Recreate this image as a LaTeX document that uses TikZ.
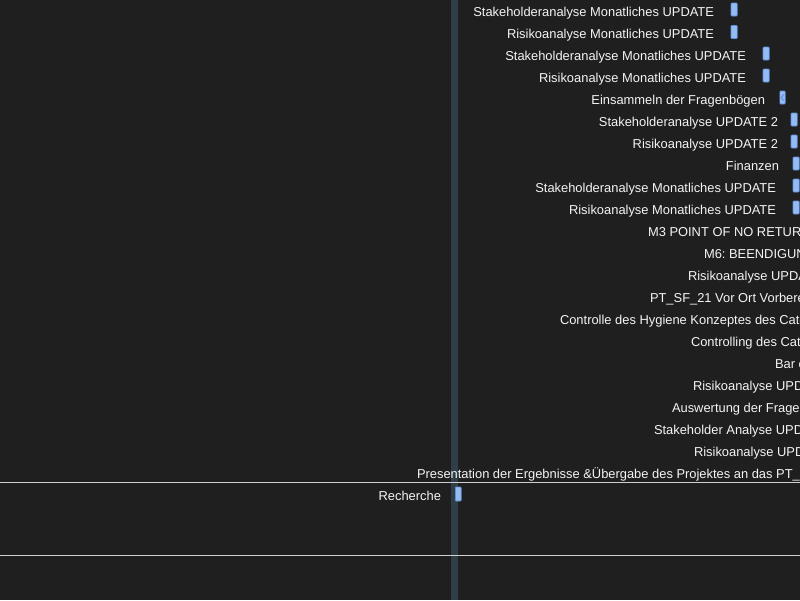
\documentclass[tikz,border=0pt]{standalone}
\usepackage{fontspec}
\setmainfont{Liberation Sans}
\frenchspacing
\begin{document}
\begin{tikzpicture}[x=1pt,y=-1pt,
  lbl/.style={inner sep=0pt,outer sep=0pt,text=labelwhite,font=\fontsize{12.9}{14}\selectfont},
  bar/.style={fill=barblue,draw=baredge,line width=0.6pt,rounded corners=0.8pt},
  divider/.style={draw=linegray,line width=1.1pt}]
\definecolor{bg}{HTML}{1F1F1F}
\definecolor{labelwhite}{HTML}{F4F4F4}
\definecolor{barblue}{HTML}{95BBF3}
\definecolor{baredge}{HTML}{5E8FDA}
\definecolor{linegray}{HTML}{CFCFCF}
\definecolor{todayband}{HTML}{2F3F47}
\useasboundingbox (0,0) rectangle (800,600);
\clip (0,0) rectangle (800,600);
\fill[bg] (0,0) rectangle (800,600);
% today marker band
\fill[todayband] (451,0) rectangle (458,600);

% task rows with visible bars (labels right-aligned before the bar)
\node[lbl,anchor=base east] (t0) at (714,16) {Stakeholderanalyse Monatliches UPDATE};
\node[lbl,anchor=base east] (t1) at (714,38) {Risikoanalyse Monatliches UPDATE};
\node[lbl,anchor=base east] (t2) at (746,60) {Stakeholderanalyse Monatliches UPDATE};
\node[lbl,anchor=base east] (t3) at (746,82) {Risikoanalyse Monatliches UPDATE};
\node[lbl,anchor=base east] (t4) at (765,104) {Einsammeln der Fragenbögen};
\node[lbl,anchor=base east] (t5) at (778,126) {Stakeholderanalyse UPDATE 2};
\node[lbl,anchor=base east] (t6) at (778,148) {Risikoanalyse UPDATE 2};
\node[lbl,anchor=base east] (t7) at (779,170) {Finanzen};
\node[lbl,anchor=base east] (t8) at (776,192) {Stakeholderanalyse Monatliches UPDATE};
\node[lbl,anchor=base east] (t9) at (776,214) {Risikoanalyse Monatliches UPDATE};

\draw[bar] (731,3) rectangle (737.2,16);
\draw[bar] (731,25.5) rectangle (737.2,38.5);
\draw[bar] (763,47) rectangle (769.2,60);
\draw[bar] (763,69) rectangle (769.2,82);
\draw[bar] (779.8,91) rectangle (785.2,104);
\draw[baredge,line width=0.9pt] (783.6,94.5) -- (781.3,97.5) -- (783.6,100.5);
\draw[bar] (791,113) rectangle (797.2,126);
\draw[bar] (791,135) rectangle (797.2,148);
\draw[bar] (793,157) rectangle (799.2,170);
\draw[bar] (793,179) rectangle (799.2,192);
\draw[bar] (793,201) rectangle (799.2,214);

% task rows running past the right edge
\node[lbl,anchor=base west] (t10) at (648,236) {M3 POINT OF NO RETURN};
\node[lbl,anchor=base west] (t11) at (704,258) {M6: BEENDIGUNG DES PROJEKTES};
\node[lbl,anchor=base west] (t12) at (688,280) {Risikoanalyse UPDATE};
\node[lbl,anchor=base west] (t13) at (650,302) {PT\_SF\_21 Vor Ort Vorbereitung};
\node[lbl,anchor=base west] (t14) at (560,324) {Controlle des Hygiene Konzeptes des Caterings};
\node[lbl,anchor=base west] (t15) at (691,346) {Controlling des Caterings};
\node[lbl,anchor=base west] (t16) at (775,368) {Bar catering};
\node[lbl,anchor=base west] (t17) at (693,390) {Risikoanalyse UPDATE};
\node[lbl,anchor=base west] (t18) at (672,412) {Auswertung der Fragebögen};
\node[lbl,anchor=base west] (t19) at (654,434) {Stakeholder Analyse UPDATE};
\node[lbl,anchor=base west] (t20) at (694,456) {Risikoanalyse UPDATE};
\node[lbl,anchor=base west] (t21) at (417,478) {Presentation der Ergebnisse \&Übergabe des Projektes an das PT\_SF};

% group separators
\coordinate (s1l) at (0,482.5);
\coordinate (s1r) at (800,482.5);
\coordinate (s2l) at (0,555.5);
\coordinate (s2r) at (800,555.5);
\draw[divider] (s1l) -- (s1r);
\draw[divider] (s2l) -- (s2r);

% research row
\node[lbl,anchor=base east] (t22) at (441,500) {Recherche};
\draw[bar] (455.3,487) rectangle (461.2,501);
\end{tikzpicture}
\end{document}
